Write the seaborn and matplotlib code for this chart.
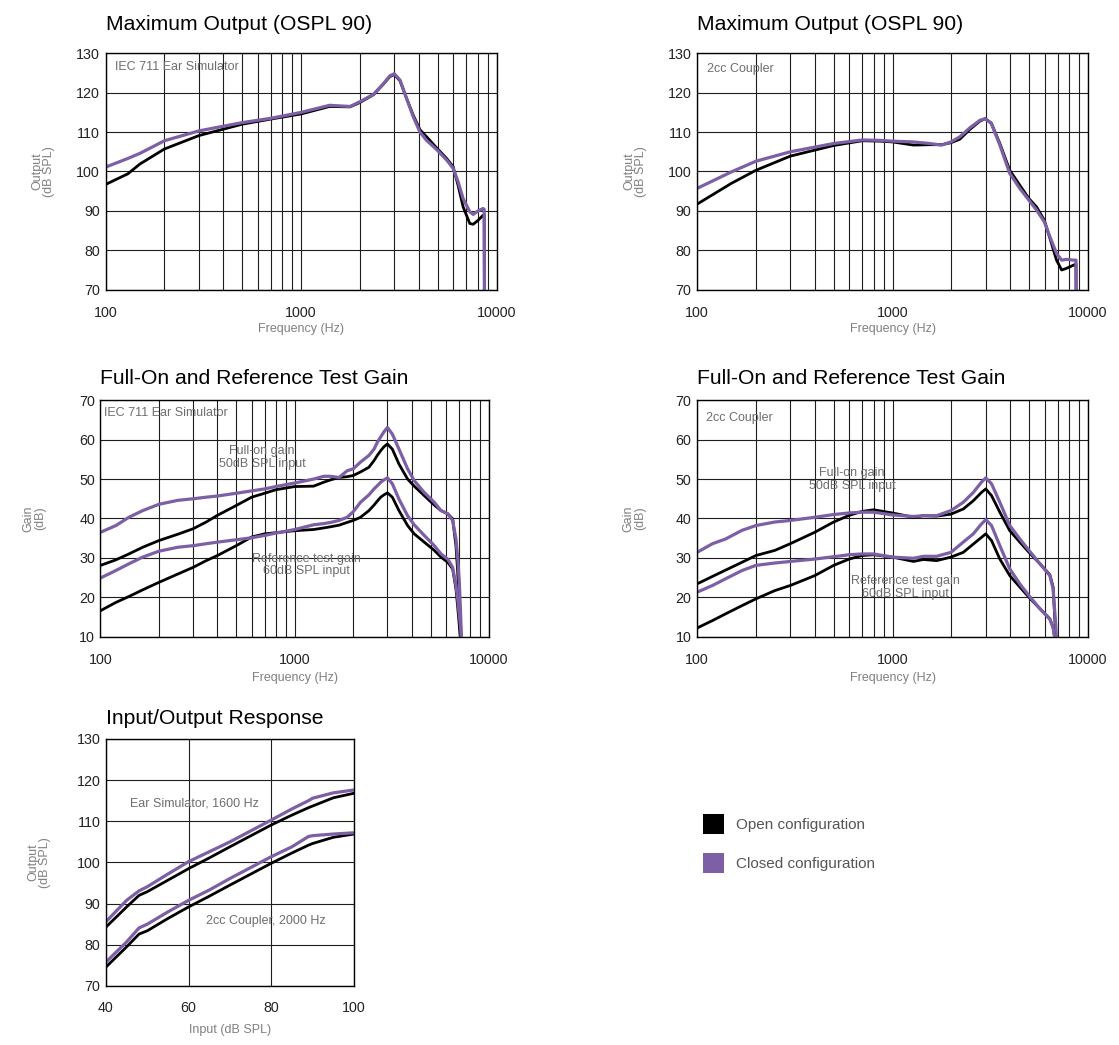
import numpy as np
import matplotlib
matplotlib.use("Agg")
import matplotlib.pyplot as plt
from matplotlib.patches import Patch
from matplotlib.ticker import LogLocator, NullFormatter, FixedLocator
import seaborn as sns

# ---------------- data ----------------
# Maximum output, IEC 711 ear simulator
ospl_ear_freq = [100, 130, 150, 200, 300, 500, 700, 1000, 1400, 1780, 2000, 2350, 2640, 2850, 3000, 3210,
                 3470, 3750, 4060, 4390, 4980, 5560, 6000, 6360, 6750, 7300, 7600, 8050, 8540, 8650, 8680]
ospl_ear_closed = [101.1, 103.3, 104.6, 107.8, 110.3, 112.4, 113.5, 115.0, 116.8, 116.5, 117.7, 119.6, 122.3, 124.3,
                   124.8, 123.2, 118.5, 113.9, 110.0, 107.9, 105.4, 102.9, 100.8, 97.4, 93.1, 89.8, 89.1, 90.0,
                   90.6, 90.4, 60]
ospl_ear_open = [96.7, 99.4, 101.9, 105.7, 109.1, 112.0, 113.3, 114.6, 116.5, 116.4, 117.5, 119.5, 122.2, 124.1,
                 124.6, 123.0, 118.5, 114.3, 110.6, 108.8, 105.8, 103.3, 101.2, 96.5, 91.0, 86.8, 86.6, 87.6,
                 88.9, 88.9, 60]

# Maximum output, 2cc coupler
ospl_cpl_freq = [100, 150, 200, 300, 500, 700, 860, 1000, 1280, 1550, 1780, 1990, 2210, 2490, 2800, 2980,
                 3200, 3540, 3980, 4480, 4990, 5460, 5980, 6390, 6900, 7330, 7750, 8410, 8680, 8710]
ospl_cpl_closed = [95.7, 99.9, 102.6, 105.0, 107.1, 108.0, 107.9, 107.7, 107.5, 107.1, 106.7, 107.5, 108.8, 111.1,
                   113.0, 113.4, 112.2, 106.7, 99.5, 95.7, 92.7, 90.2, 87.2, 83.4, 79.2, 77.5, 77.7, 77.5, 77.5, 60]
ospl_cpl_open = [91.7, 97.0, 100.3, 103.9, 106.6, 107.8, 107.7, 107.5, 106.7, 106.8, 106.8, 107.3, 108.2, 110.7,
                 112.8, 113.4, 112.3, 107.1, 100.3, 96.5, 93.1, 91.0, 87.6, 83.0, 77.5, 75.0, 75.4, 76.2, 76.5, 60]

# Gain, IEC 711 ear simulator
gain_ear_freq = [100, 120, 140, 165, 200, 250, 300, 350, 400, 500, 600, 700, 800, 1000, 1250, 1410, 1530,
                 1690, 1860, 2000, 2180, 2410, 2560, 2660, 2770, 2880, 3000, 3180, 3440, 3810, 4120, 4640,
                 5230, 5660, 6130, 6500, 6760, 6900, 7035, 7140, 7230]
gain_ear_full_closed = [36.5, 38.2, 40.3, 42.0, 43.6, 44.6, 45.0, 45.4, 45.7, 46.4, 47.0, 47.5, 48.1, 49.0, 50.0,
                        50.7, 50.7, 50.4, 52.1, 52.6, 54.3, 56.0, 57.6, 59.3, 60.7, 62.0, 63.1, 61.4, 57.6, 52.6,
                        49.6, 46.6, 44.1, 42.0, 41.2, 39.5, 34.8, 30.0, 23.8, 16.0, 8.0]
gain_ear_full_open = [28.1, 29.5, 31.0, 32.7, 34.4, 36.0, 37.4, 39.1, 40.8, 43.3, 45.4, 46.4, 47.3, 48.1, 48.2,
                      49.2, 49.8, 50.4, 50.6, 50.9, 51.8, 53.0, 54.7, 56.0, 57.2, 58.2, 58.9, 57.6, 53.8, 50.0,
                      48.2, 45.8, 43.4, 42.0, 41.2, 39.9, 33.0, 26.4, 17.0, 9.0, 0]
gain_ear_ref_closed = [24.9, 26.8, 28.5, 30.2, 31.7, 32.7, 33.1, 33.6, 34.0, 34.6, 35.1, 35.7, 36.3, 37.2, 38.4,
                       38.7, 39.0, 39.5, 40.3, 41.7, 44.1, 46.0, 47.5, 48.3, 49.2, 49.8, 50.3, 48.8, 44.9, 40.7,
                       38.4, 35.7, 33.1, 31.0, 29.7, 27.6, 23.0, 19.5, 15.4, 12.5, 8.0]
gain_ear_ref_open = [16.6, 18.7, 20.2, 21.9, 23.8, 25.9, 27.6, 29.3, 30.6, 33.1, 35.3, 36.1, 36.4, 36.9, 37.2,
                     37.6, 37.9, 38.3, 39.0, 39.5, 40.3, 42.0, 43.4, 44.4, 45.4, 46.0, 46.5, 45.4, 42.0, 38.2,
                     36.1, 34.0, 31.9, 30.2, 28.9, 27.2, 22.1, 17.5, 12.8, 9.0, 0]

# Gain, 2cc coupler
gain_cpl_freq = [100, 120, 140, 170, 200, 250, 300, 400, 500, 600, 700, 800, 1000, 1280, 1440, 1680, 1990,
                 2300, 2590, 2850, 3000, 3210, 3540, 3980, 4480, 4990, 5680, 6380, 6630, 6840, 6890, 7000]
gain_cpl_full_closed = [31.4, 33.6, 34.8, 37.0, 38.2, 39.1, 39.5, 40.3, 41.0, 41.4, 41.6, 41.6, 40.9, 40.5, 40.7,
                        40.7, 42.0, 44.1, 46.6, 49.2, 50.3, 48.8, 44.1, 38.2, 34.8, 31.9, 28.5, 25.5, 22.1, 13.0,
                        10.0, 0]
gain_cpl_full_open = [23.4, 25.3, 26.9, 28.9, 30.6, 31.9, 33.6, 36.5, 39.1, 40.8, 41.8, 42.2, 41.4, 40.3, 40.7,
                      40.6, 41.1, 42.4, 44.5, 46.6, 47.5, 45.8, 41.6, 36.9, 34.0, 31.4, 28.5, 25.7, 22.6, 10.0,
                      5.0, -5]
gain_cpl_ref_closed = [21.3, 23.0, 24.7, 26.8, 28.1, 28.7, 29.1, 29.7, 30.3, 30.8, 31.0, 31.0, 30.2, 29.9, 30.4,
                       30.4, 31.4, 34.0, 36.1, 38.6, 39.7, 38.2, 33.1, 27.2, 23.4, 20.4, 17.1, 14.5, 12.3, 8.0,
                       5.0, 0]
gain_cpl_ref_open = [12.2, 14.1, 15.8, 17.9, 19.6, 21.7, 23.0, 25.5, 28.1, 29.7, 30.6, 30.8, 30.2, 29.1, 29.6,
                     29.3, 30.2, 31.4, 33.5, 35.2, 36.1, 34.4, 29.7, 25.5, 22.6, 20.0, 17.1, 14.5, 12.3, 8.0,
                     5.0, 0]

# Input / output
io_input = [40, 45, 48, 50, 55, 60, 65, 70, 80, 85, 89, 90, 95, 100]
io_ear_closed = [85.6, 90.8, 93.1, 94.1, 97.2, 100.2, 102.6, 105.0, 110.3, 113.0, 115.0, 115.6, 116.9, 117.6]
io_ear_open = [84.3, 89.2, 92.0, 92.9, 95.7, 98.5, 101.1, 103.8, 109.1, 111.5, 113.3, 113.7, 115.7, 116.8]
io_cpl_closed = [75.8, 80.7, 84.1, 85.0, 88.0, 90.8, 93.3, 96.1, 101.4, 103.8, 106.3, 106.5, 106.9, 107.2]
io_cpl_open = [74.6, 79.5, 82.6, 83.4, 86.4, 89.2, 91.8, 94.5, 99.8, 102.3, 104.2, 104.6, 106.1, 106.9]

legend_labels = ["Open configuration", "Closed configuration"]

# ---------------- style ----------------
sns.set_theme(style="white")
plt.rcParams["font.family"] = ["Liberation Sans", "DejaVu Sans"]

PURPLE = "#7d5fa6"
OPEN = "#000000"
GRAY = "#808080"
TXT = "#6e6e6e"

fig = plt.figure(figsize=(11.19, 10.45), dpi=100)


def draw(ax, x, y, color):
    sns.lineplot(x=x, y=y, ax=ax, color=color, lw=2.3 if color == PURPLE else 2.0,
                 estimator=None, sort=False)


def style_axes(ax, ylim, yticks, xlabel, ylabel, ylabel_x, xlabel_y, title, title_pad, log=True):
    ax.set_ylim(*ylim)
    ax.set_yticks(yticks)
    if log:
        ax.set_xscale("log")
        ax.set_xlim(100, 10000)
        ax.xaxis.set_major_locator(FixedLocator([100, 1000, 10000]))
        ax.xaxis.set_minor_locator(LogLocator(base=10, subs=np.arange(2, 10)))
        ax.xaxis.set_minor_formatter(NullFormatter())
        ax.set_xticklabels(["100", "1000", "10000"])
    ax.grid(True, which="both", color="#1e1e1e", lw=0.8)
    ax.set_axisbelow(True)
    for s in ax.spines.values():
        s.set_color("black")
        s.set_linewidth(1.0)
    ax.tick_params(axis="both", which="both", length=0, labelsize=10.3, labelcolor="#222222")
    ax.tick_params(axis="x", pad=12)
    ax.tick_params(axis="y", pad=4)
    ax.set_xlabel(xlabel, fontsize=9, color=GRAY)
    ax.set_ylabel(ylabel, fontsize=9, color=GRAY, linespacing=1.0)
    ax.yaxis.set_label_coords(ylabel_x, 0.5)
    ax.xaxis.set_label_coords(0.5, xlabel_y)
    ax.set_title(title, loc="left", fontsize=15.2, color="black", pad=title_pad)


# panel 1
ax1 = fig.add_axes([0.0943, 0.7228, 0.3494, 0.2262])
draw(ax1, ospl_ear_freq, ospl_ear_open, OPEN)
draw(ax1, ospl_ear_freq, ospl_ear_closed, PURPLE)
style_axes(ax1, (70, 130), range(70, 131, 10), "Frequency (Hz)", "Output\n(dB SPL)",
           -0.129, -0.139, "Maximum Output (OSPL 90)", 17)
ax1.text(0.024, 0.942, "IEC 711 Ear Simulator", transform=ax1.transAxes, fontsize=9,
         color=TXT, va="center", ha="left")

# panel 2
ax2 = fig.add_axes([0.6229, 0.7228, 0.3494, 0.2262])
draw(ax2, ospl_cpl_freq, ospl_cpl_open, OPEN)
draw(ax2, ospl_cpl_freq, ospl_cpl_closed, PURPLE)
style_axes(ax2, (70, 130), range(70, 131, 10), "Frequency (Hz)", "Output\n(dB SPL)",
           -0.128, -0.139, "Maximum Output (OSPL 90)", 17)
ax2.text(0.026, 0.934, "2cc Coupler", transform=ax2.transAxes, fontsize=9,
         color=TXT, va="center", ha="left")

# panel 3
ax3 = fig.add_axes([0.0898, 0.3907, 0.3472, 0.2263])
draw(ax3, gain_ear_freq, gain_ear_full_open, OPEN)
draw(ax3, gain_ear_freq, gain_ear_full_closed, PURPLE)
draw(ax3, gain_ear_freq, gain_ear_ref_open, OPEN)
draw(ax3, gain_ear_freq, gain_ear_ref_closed, PURPLE)
style_axes(ax3, (10, 70), range(10, 71, 10), "Frequency (Hz)", "Gain\n(dB)",
           -0.14, -0.148, "Full-On and Reference Test Gain", 11.5)
ax3.text(0.009, 0.946, "IEC 711 Ear Simulator", transform=ax3.transAxes, fontsize=9,
         color=TXT, va="center", ha="left")
ax3.text(678, 55.5, "Full-on gain\n50dB SPL input", fontsize=9, color=TXT,
         ha="center", va="center", linespacing=1.1)
ax3.text(1142, 28.2, "Reference test gain\n60dB SPL input", fontsize=9, color=TXT,
         ha="center", va="center", linespacing=1.1)

# panel 4
ax4 = fig.add_axes([0.6229, 0.3907, 0.3494, 0.2263])
draw(ax4, gain_cpl_freq, gain_cpl_full_open, OPEN)
draw(ax4, gain_cpl_freq, gain_cpl_full_closed, PURPLE)
draw(ax4, gain_cpl_freq, gain_cpl_ref_open, OPEN)
draw(ax4, gain_cpl_freq, gain_cpl_ref_closed, PURPLE)
style_axes(ax4, (10, 70), range(10, 71, 10), "Frequency (Hz)", "Gain\n(dB)",
           -0.13, -0.148, "Full-On and Reference Test Gain", 11.5)
ax4.text(0.023, 0.925, "2cc Coupler", transform=ax4.transAxes, fontsize=9,
         color=TXT, va="center", ha="left")
ax4.text(621, 50.0, "Full-on gain\n50dB SPL input", fontsize=9, color=TXT,
         ha="center", va="center", linespacing=1.1)
ax4.text(1159, 22.6, "Reference test gain\n60dB SPL input", fontsize=9, color=TXT,
         ha="center", va="center", linespacing=1.1)

# panel 5
ax5 = fig.add_axes([0.0947, 0.0565, 0.2216, 0.2364])
draw(ax5, io_input, io_ear_open, OPEN)
draw(ax5, io_input, io_ear_closed, PURPLE)
draw(ax5, io_input, io_cpl_open, OPEN)
draw(ax5, io_input, io_cpl_closed, PURPLE)
ax5.set_xlim(40, 100)
ax5.set_xticks([40, 60, 80, 100])
style_axes(ax5, (70, 130), range(70, 131, 10), "Input (dB SPL)", "Output\n(dB SPL)",
           -0.222, -0.154, "Input/Output Response", 11, log=False)
ax5.tick_params(axis="x", pad=11)
ax5.text(61.5, 114.4, "Ear Simulator, 1600 Hz", fontsize=9, color=TXT, ha="center", va="center")
ax5.text(78.7, 85.7, "2cc Coupler, 2000 Hz", fontsize=9, color=TXT, ha="center", va="center")

# legend
handles = [Patch(facecolor=OPEN, edgecolor="none"), Patch(facecolor=PURPLE, edgecolor="none")]
fig.legend(handles, legend_labels, loc="upper left", bbox_to_anchor=(703 / 1119, 1 - 814 / 1045),
           frameon=False, fontsize=11, handlelength=1.4, handleheight=1.65, handletextpad=0.75,
           labelspacing=1.25, borderpad=0, borderaxespad=0, labelcolor="#555555")

fig.savefig("out.png", dpi=100)
